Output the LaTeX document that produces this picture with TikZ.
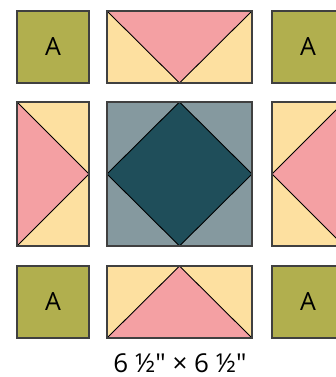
\documentclass[tikz,border=0pt]{standalone}
\usepackage{fontspec}
\setmainfont{Open Sans}
\newfontfamily\quiltfont{Open Sans}[Ligatures=ResetAll]
\usepackage{xcolor}
\definecolor{olive}{HTML}{B1AF4E}
\definecolor{rose}{HTML}{F4A0A3}
\definecolor{sand}{HTML}{FDE0A0}
\definecolor{slate}{HTML}{85999F}
\definecolor{teal}{HTML}{1F4E5A}
\definecolor{edge}{HTML}{404040}

\begin{document}
\begin{tikzpicture}[x=1pt,y=-1pt,
    patch/.style={draw=edge,line width=1.5pt},
    piece/.style={draw=black,line width=0.9pt,line join=round},
    corner/.style={patch,fill=olive,minimum width=72pt,minimum height=72pt,
        inner sep=0pt,font=\quiltfont\fontsize{25}{25}\selectfont},
    sizelabel/.style={font=\quiltfont\fontsize{26}{26}\selectfont,anchor=base,inner sep=0pt}]
    \useasboundingbox (0,0) rectangle (336,377);
    % corner squares
    \node[corner] (tl) at (53,47) {A};
    \node[corner] (tr) at (308,47) {A};
    \node[corner] (bl) at (53,302) {A};
    \node[corner] (br) at (308,302) {A};
    % top flying geese
    \fill[sand] (107,11) rectangle (252,83);
    \filldraw[piece,fill=rose] (107,11) -- (252,11) -- (179.5,83) -- cycle;
    \draw[patch] (107,11) rectangle (252,83);
    % left flying geese
    \fill[sand] (17,102) rectangle (89,246);
    \filldraw[piece,fill=rose] (17,102) -- (89,174) -- (17,246) -- cycle;
    \draw[patch] (17,102) rectangle (89,246);
    % centre square in a square
    \fill[slate] (107,102) rectangle (252,246);
    \filldraw[piece,fill=teal] (179.5,102) -- (252,174) -- (179.5,246) -- (107,174) -- cycle;
    \draw[patch] (107,102) rectangle (252,246);
    % right flying geese
    \fill[sand] (272,102) rectangle (344,246);
    \filldraw[piece,fill=rose] (344,102) -- (272,174) -- (344,246) -- cycle;
    \draw[patch] (272,102) rectangle (344,246);
    % bottom flying geese
    \fill[sand] (107,266) rectangle (252,338);
    \filldraw[piece,fill=rose] (107,338) -- (179.5,266) -- (252,338) -- cycle;
    \draw[patch] (107,266) rectangle (252,338);
    % finished size
    \node[sizelabel] (size) at (180,372.5) {6 ½\char34\ × 6 ½\char34};
\end{tikzpicture}
\end{document}
